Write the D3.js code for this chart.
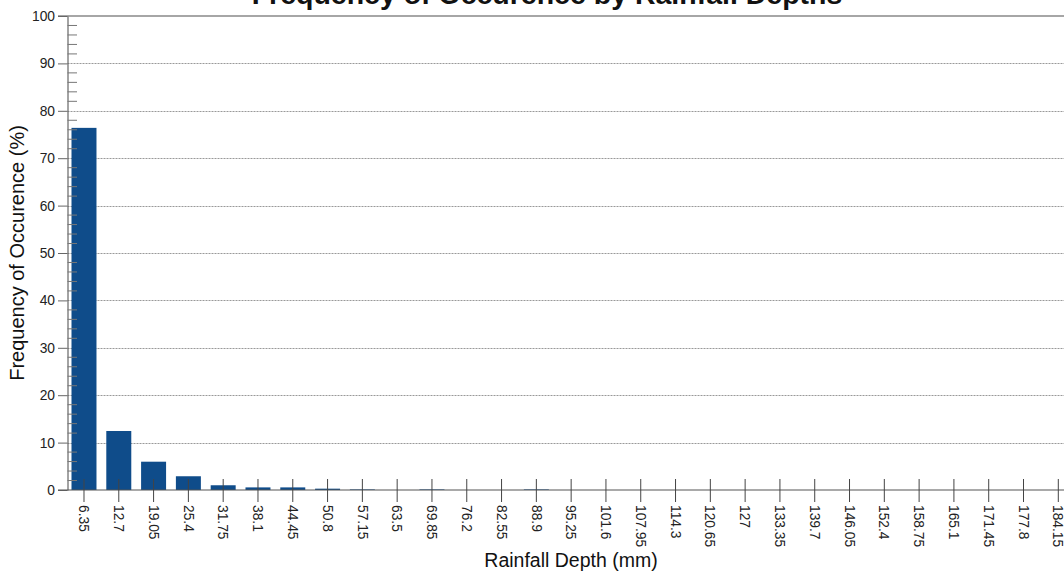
<!DOCTYPE html>
<html>
<head>
<meta charset="utf-8">
<script src="https://cdn.jsdelivr.net/npm/d3@7"></script>
<style>
  html, body { margin: 0; padding: 0; background: #fff; }
  svg { display: block; font-family: "Liberation Sans", Arial, sans-serif; }
</style>
</head>
<body>
<svg id="chart" width="1064" height="573"></svg>
<script>
const categories = ["6.35","12.7","19.05","25.4","31.75","38.1","44.45","50.8","57.15","63.5",
  "69.85","76.2","82.55","88.9","95.25","101.6","107.95","114.3","120.65","127",
  "133.35","139.7","146.05","152.4","158.75","165.1","171.45","177.8","184.15"];
const frequency = [76.4, 12.45, 5.97, 2.9, 1.0, 0.55, 0.55, 0.28, 0.12, 0,
  0.12, 0, 0, 0.12, 0, 0, 0, 0, 0, 0,
  0, 0, 0, 0, 0, 0, 0, 0, 0];
const yTicks = [0, 10, 20, 30, 40, 50, 60, 70, 80, 90, 100];
const yMinorTicks = d3.range(2, 100, 2).filter(v => v % 10 !== 0);
const gridValues = [10, 20, 30, 40, 50, 60, 70, 80, 90];
const chartTitle = "Frequency of Occurence by Rainfall Depths";
const xTitle = "Rainfall Depth (mm)";
const yTitle = "Frequency of Occurence (%)";

const svg = d3.select("#chart");
const pLeft = 67.5, pRight = 1074.8, pTop = 16, pBottom = 490;

const x = d3.scaleBand().domain(categories).range([pLeft, pRight])
  .paddingInner(0.282).paddingOuter(0.115);
const y = d3.scaleLinear().domain([0, 100]).range([pBottom, pTop]);

// title (cut off at top, as in the reference)
svg.append("text").attr("x", 547).attr("y", 3.5)
  .attr("text-anchor", "middle").attr("font-size", 28.5).attr("font-weight", "bold")
  .attr("fill", "#111").text(chartTitle);

// gridlines
svg.append("g").selectAll("line").data(gridValues).join("line")
  .attr("x1", pLeft).attr("x2", 1064)
  .attr("y1", d => Math.round(y(d)) + 0.5).attr("y2", d => Math.round(y(d)) + 0.5)
  .attr("stroke", "#999").attr("stroke-width", 1).attr("stroke-dasharray", "2,1");

// top frame line
svg.append("line").attr("x1", 58).attr("x2", 1064)
  .attr("y1", y(100)).attr("y2", y(100))
  .attr("stroke", "#888").attr("stroke-width", 1.5);

// bars
svg.append("g").selectAll("rect").data(frequency).join("rect")
  .attr("x", (d, i) => x(categories[i]))
  .attr("width", x.bandwidth())
  .attr("y", d => y(d))
  .attr("height", d => y(0) - y(d))
  .attr("fill", "#0f4c8a");

// y axis
const yAxis = svg.append("g").attr("transform", `translate(${pLeft},0)`)
  .call(d3.axisLeft(y).tickValues(yTicks).tickSize(9.5).tickPadding(3).tickSizeOuter(0));
yAxis.select(".domain").attr("stroke", "#666").attr("stroke-width", 1.2);
yAxis.selectAll(".tick line").attr("stroke", "#666");
yAxis.selectAll(".tick text").attr("font-size", 13.8).attr("fill", "#222")
  .attr("font-family", "'Liberation Sans', Arial, sans-serif");

// y minor ticks (inside)
svg.append("g").selectAll("line").data(yMinorTicks).join("line")
  .attr("x1", pLeft).attr("x2", pLeft + 9.5)
  .attr("y1", d => y(d)).attr("y2", d => y(d))
  .attr("stroke", "#777").attr("stroke-width", 1);

// x axis line
svg.append("line").attr("x1", 58).attr("x2", 1064)
  .attr("y1", y(0)).attr("y2", y(0))
  .attr("stroke", "#555").attr("stroke-width", 1.2);

// x ticks crossing the axis
const xg = svg.append("g");
xg.selectAll("line").data(categories).join("line")
  .attr("x1", d => x(d) + x.bandwidth() / 2).attr("x2", d => x(d) + x.bandwidth() / 2)
  .attr("y1", y(0) - 11).attr("y2", y(0) + 12)
  .attr("stroke", "#444").attr("stroke-width", 1);
xg.selectAll("text").data(categories).join("text")
  .attr("transform", d => `translate(${x(d) + x.bandwidth() / 2},${y(0) + 15}) rotate(90)`)
  .attr("dy", "0.35em").attr("text-anchor", "start")
  .attr("font-size", 13.8).attr("fill", "#222").text(d => d);

// axis titles
svg.append("text").attr("x", 571).attr("y", 567)
  .attr("text-anchor", "middle").attr("font-size", 19.5).attr("fill", "#111").text(xTitle);
svg.append("text").attr("transform", `translate(24,${(pTop + pBottom) / 2}) rotate(-90)`)
  .attr("text-anchor", "middle").attr("font-size", 20).attr("fill", "#111").text(yTitle);
</script>
</body>
</html>
